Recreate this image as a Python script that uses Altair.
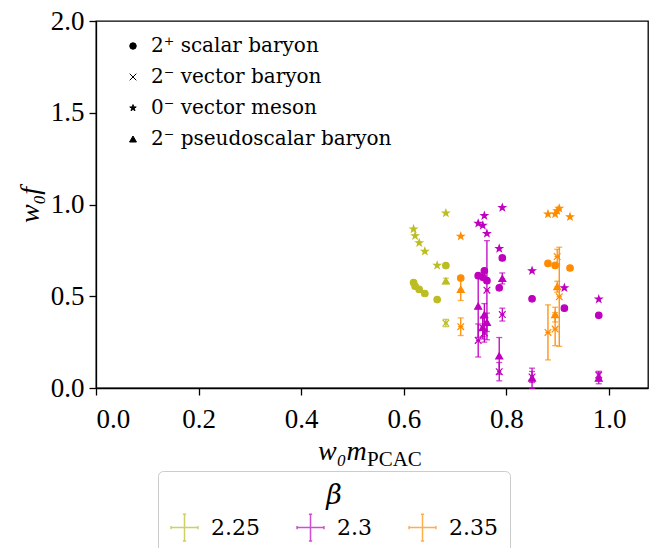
import altair as alt
import pandas as pd

# ---- data -------------------------------------------------------------
BETAS = ["2.25", "2.3", "2.35"]
BETA_COLORS = ["#bcbd22", "#bf00bf", "#ff8c00"]

CHANNELS = ["2⁺ scalar baryon", "2⁻ vector baryon", "0⁻ vector meson", "2⁻ pseudoscalar baryon"]

# beta = 2.25
m_225 = [0.619, 0.622, 0.630, 0.641, 0.665, 0.682]
m_err_225 = [0.004, 0.004, 0.004, 0.004, 0.004, 0.004]
meson_225 = [0.866, 0.829, 0.791, 0.745, 0.668, 0.953]
scalar_225 = [0.575, 0.555, 0.537, 0.515, 0.482, 0.667]
pseudo_225 = [None, None, None, None, None, 0.583]
pseudo_err_225 = [None, None, None, None, None, 0.015]
vector_225 = [None, None, None, None, None, 0.354]
vector_err_225 = [None, None, None, None, None, 0.02]

# beta = 2.3
m_230 = [0.745, 0.754, 0.757, 0.762, 0.786, 0.792, 0.850, 0.913, 0.980]
m_err_230 = [0.004, 0.004, 0.004, 0.004, 0.004, 0.004, 0.004, 0.004, 0.004]
meson_230 = [0.897, 0.886, 0.939, 0.842, 0.760, 0.983, 0.639, 0.546, 0.484]
scalar_230 = [0.612, 0.603, 0.639, 0.585, 0.546, 0.709, 0.486, 0.435, 0.396]
pseudo_230 = [0.446, 0.330, 0.400, 0.358, 0.175, 0.597, 0.053, None, 0.053]
pseudo_err_230 = [0.17, 0.05, 0.06, 0.05, 0.10, 0.03, 0.055, None, 0.03]
vector_230 = [0.259, 0.327, 0.300, 0.533, 0.089, 0.400, 0.060, None, 0.071]
vector_err_230 = [0.09, 0.06, 0.05, 0.27, 0.05, 0.035, 0.03, None, 0.02]

# beta = 2.35
m_235 = [0.711, 0.881, 0.895, 0.899, 0.903, 0.924]
m_err_235 = [0.005, 0.005, 0.005, 0.005, 0.005, 0.005]
meson_235 = [0.827, 0.948, 0.948, 0.966, 0.979, 0.933]
scalar_235 = [0.599, 0.679, 0.668, None, None, 0.654]
pseudo_235 = [0.537, None, 0.400, 0.552, None, None]
pseudo_err_235 = [0.06, None, 0.04, 0.03, None, None]
vector_235 = [0.334, 0.303, 0.321, 0.716, 0.497, None]
vector_err_235 = [0.048, 0.15, 0.09, 0.04, 0.27, None]

# ---- long table -------------------------------------------------------
rows = []


def add(beta, m, merr, channel, vals, errs=None):
    for i, v in enumerate(vals):
        if v is None:
            continue
        e = errs[i] if errs is not None else 0.0
        rows.append({
            "beta": beta, "channel": channel,
            "m": m[i], "m_lo": m[i] - merr[i], "m_hi": m[i] + merr[i],
            "f": v, "f_lo": v - e, "f_hi": v + e, "err": e,
        })


for beta, m, merr, sc, vec, vecerr, mes, ps, pserr in [
    ("2.25", m_225, m_err_225, scalar_225, vector_225, vector_err_225, meson_225, pseudo_225, pseudo_err_225),
    ("2.3", m_230, m_err_230, scalar_230, vector_230, vector_err_230, meson_230, pseudo_230, pseudo_err_230),
    ("2.35", m_235, m_err_235, scalar_235, vector_235, vector_err_235, meson_235, pseudo_235, pseudo_err_235),
]:
    add(beta, m, merr, CHANNELS[0], sc)
    add(beta, m, merr, CHANNELS[1], vec, vecerr)
    add(beta, m, merr, CHANNELS[2], mes)
    add(beta, m, merr, CHANNELS[3], ps, pserr)

df = pd.DataFrame(rows)

# ---- marker shapes ----------------------------------------------------
X_PATH = "M-1,-1L1,1M-1,1L1,-1"
STAR_PATH = ("M0,-1L0.235,-0.324L0.951,-0.309L0.380,0.124L0.588,0.809L0,0.4"
             "L-0.588,0.809L-0.380,0.124L-0.951,-0.309L-0.235,-0.324Z")
PLUS_PATH = ("M-1,0L1,0M0,-1L0,1M-1,-0.12L-1,0.12M1,-0.12L1,0.12"
             "M-0.12,-1L0.12,-1M-0.12,1L0.12,1")

FONT = "Liberation Serif"
LEGEND_FONT = "DejaVu Serif"

x_scale = alt.Scale(domain=[0, 1.076], nice=False, zero=False)
y_scale = alt.Scale(domain=[0, 2], nice=False)
color_scale = alt.Scale(domain=BETAS, range=BETA_COLORS)

beta_legend = alt.Legend(
    orient="none", legendX=62, legendY=450, direction="horizontal", columns=3,
    title="β", titleFontStyle="italic", titleFontWeight="normal", titleFontSize=27,
    titleAnchor="middle", titleFont=LEGEND_FONT, titlePadding=3,
    labelFont=LEGEND_FONT, labelFontSize=22, labelOffset=12, columnPadding=34,
    symbolType=PLUS_PATH, symbolSize=720, symbolStrokeWidth=1.5,
    strokeColor="#cccccc", cornerRadius=5, padding=12, fillColor="white",
)

x_axis = alt.Axis(values=[0, 0.2, 0.4, 0.6, 0.8, 1.0], format=".1f", title=None,
                  labelPadding=11)
y_axis = alt.Axis(values=[0, 0.5, 1.0, 1.5, 2.0], format=".1f", title="w₀f",
                  titleFontStyle="italic", titleFontSize=28, titlePadding=6,
                  labelPadding=5)

base = alt.Chart(df)
with_err = base.transform_filter("datum.err > 0")

# vertical error bars
vbar = with_err.mark_rule(strokeWidth=1.3).encode(
    x=alt.X("m:Q", scale=x_scale, axis=x_axis),
    y=alt.Y("f_lo:Q", scale=y_scale, axis=y_axis),
    y2="f_hi:Q",
    color=alt.Color("beta:N", scale=color_scale, legend=beta_legend),
)

# horizontal error bars
hbar = with_err.mark_rule(strokeWidth=1.3).encode(
    x="m_lo:Q", x2="m_hi:Q", y="f:Q",
    color=alt.Color("beta:N", scale=color_scale, legend=beta_legend),
)

# caps on the vertical bars
vcaps = with_err.transform_fold(["f_lo", "f_hi"], as_=["end", "fv"]).mark_tick(
    orient="horizontal", size=6, thickness=1.3
).encode(
    x="m:Q", y="fv:Q",
    color=alt.Color("beta:N", scale=color_scale, legend=beta_legend),
)

shape_legend = alt.Legend(
    orient="none", legendX=27, legendY=15, title=None,
    labelFont=LEGEND_FONT, labelFontSize=20, labelOffset=8, rowPadding=11, labelLimit=0,
    symbolFillColor="black", symbolStrokeColor="black",
    symbolStrokeWidth=1,
)

points = base.mark_point(filled=True, strokeWidth=1.2, opacity=1).encode(
    x="m:Q", y="f:Q",
    shape=alt.Shape("channel:N", scale=alt.Scale(domain=CHANNELS,
                    range=["circle", X_PATH, STAR_PATH, "triangle-up"]),
                    legend=shape_legend),
    size=alt.Size("channel:N", scale=alt.Scale(domain=CHANNELS, range=[42, 48, 120, 95]),
                  legend=shape_legend),
    color=alt.Color("beta:N", scale=color_scale, legend=beta_legend),
    stroke=alt.Stroke("beta:N", scale=color_scale, legend=None),
)

# x-axis title drawn as italic symbol plus upright subscript
xt_main = alt.Chart(pd.DataFrame({"t": ["w₀m"]})).mark_text(
    font=FONT, fontSize=28, fontStyle="italic", align="left", baseline="alphabetic"
).encode(text="t:N", x=alt.value(222), y=alt.value(439))
xt_sub = alt.Chart(pd.DataFrame({"t": ["PCAC"]})).mark_text(
    font=FONT, fontSize=21, align="left", baseline="alphabetic"
).encode(text="t:N", x=alt.value(271), y=alt.value(445))

chart = alt.layer(vbar, hbar, vcaps, points, xt_main, xt_sub).properties(
    width=552, height=367,
    padding={"left": 96, "top": 21, "right": 2, "bottom": 160},
    autosize="none",
).configure_view(
    stroke="black", strokeWidth=1.3
).configure_axis(
    grid=False, domainColor="black", domainWidth=1.3, tickColor="black",
    tickWidth=1.3, tickSize=7, labelFont=FONT, labelFontSize=27, labelColor="black",
    titleFont=FONT, titleColor="black", titleFontWeight="normal",
).configure_legend(
    labelColor="black", titleColor="black", labelLimit=0,
    labelFont=LEGEND_FONT, titleFont=LEGEND_FONT,
)

chart.save("out.html", embed_options={"renderer": "svg", "actions": False})
